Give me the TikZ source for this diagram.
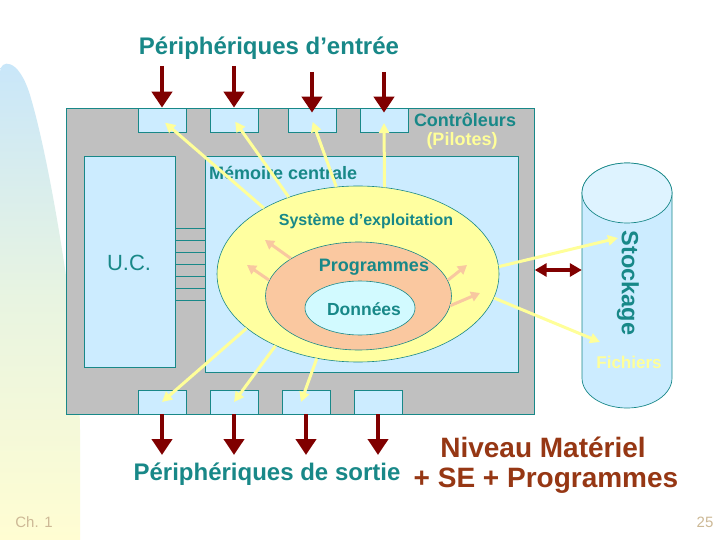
\documentclass[tikz,border=0pt]{standalone}
\usepackage{fontspec}
\setmainfont{Liberation Sans}
\usetikzlibrary{arrows.meta,shapes.geometric}
\definecolor{teal1}{RGB}{24,136,136}
\definecolor{dred}{RGB}{128,0,0}
\definecolor{lblue}{RGB}{204,236,255}
\definecolor{lblue2}{RGB}{222,243,255}
\definecolor{greyb}{RGB}{192,192,192}
\definecolor{yel}{RGB}{255,255,153}
\definecolor{yelfill}{RGB}{255,255,160}
\definecolor{orng}{RGB}{248,200,160}
\definecolor{orfill}{RGB}{250,200,160}
\definecolor{cyanfill}{RGB}{210,250,255}
\definecolor{brown1}{RGB}{150,55,20}
\definecolor{footc}{RGB}{205,185,150}
\tikzset{
  box/.style={draw=teal1,line width=0.7pt,fill=lblue,inner sep=0pt,anchor=north west},
  slot/.style={draw=teal1,line width=0.7pt,fill=lblue,minimum width=48pt,minimum height=24pt,inner sep=0pt},
  bigarrow/.style={draw=dred,line width=4.5pt,-{Triangle[width=20pt,length=16pt]}},
  dblarrow/.style={draw=dred,line width=4pt,{Triangle[width=13pt,length=12pt]}-{Triangle[width=13pt,length=12pt]}},
  yarrow/.style={draw=yel,line width=3pt,-{Triangle[width=10pt,length=10pt]}},
  oarrow/.style={draw=orng,line width=3pt,-{Triangle[width=10pt,length=9pt]}},
  ttl/.style={text=teal1,font=\bfseries\fontsize{24}{28}\selectfont,inner sep=0pt},
  lbl/.style={text=teal1,font=\bfseries\fontsize{18}{21}\selectfont,inner sep=0pt},
  ell/.style={ellipse,draw=teal1,line width=0.6pt,inner sep=0pt},
}
\begin{document}
\begin{tikzpicture}[x=1pt,y=-1pt]
\useasboundingbox (0,0) rectangle (720,540);
\fill[white] (0,0) rectangle (720,540);
% left gradient band
\shade[top color={rgb,255:red,200;green,230;blue,250},bottom color={rgb,255:red,255;green,253;blue,210},middle color={rgb,255:red,232;green,244;blue,225}]
  (0,540) -- (0,72) .. controls (0,60) and (18,56) .. (30,95) .. controls (45,145) and (62,240) .. (72,320) .. controls (77,370) and (80,410) .. (80,430) -- (80,540) -- cycle;
% grey frame
\node[draw=teal1,line width=0.7pt,fill=greyb,anchor=north west,minimum width=468pt,minimum height=306pt,inner sep=0pt] (grey) at (66,108) {};
% slots
\node[slot] (s1) at (162,120) {};
\node[slot] (s2) at (234,120) {};
\node[slot] (s3) at (312,120) {};
\node[slot] (s4) at (384,120) {};
\node[slot] (b1) at (162,402) {};
\node[slot] (b2) at (234,402) {};
\node[slot] (b3) at (306,402) {};
\node[slot] (b4) at (378,402) {};
% UC and memory
\node[box,minimum width=91pt,minimum height=211pt] (uc) at (84,156) {};
\node[box,minimum width=313pt,minimum height=216pt] (mem) at (205,156) {};
\foreach \yy in {228,240,...,300} \draw[teal1,line width=0.6pt] (175,\yy) -- (205,\yy);
\node[text=teal1,font=\fontsize{22}{26}\selectfont,inner sep=0pt] (uct) at (129,263) {U.C.};
\node[lbl,anchor=west] (memt) at (209,173) {Mémoire centrale};
% ellipses
\node[ell,fill=yelfill,minimum width=282pt,minimum height=176pt] (os) at (358,274) {};
\node[ell,fill=orfill,minimum width=186pt,minimum height=108pt] (pg) at (358.5,296) {};
\node[ell,fill=cyanfill,minimum width=110pt,minimum height=54pt] (dn) at (360,308) {};
\node[lbl,font=\bfseries\fontsize{16}{19}\selectfont] (ost) at (366,221) {Système d’exploitation};
\node[lbl] (pgt) at (374,267) {Programmes};
\node[lbl,font=\bfseries\fontsize{17.5}{20}\selectfont] (dnt) at (364,309) {Données};
% cylinder
\node[minimum width=90pt,minimum height=185pt,inner sep=0pt] (cyl) at (627,285.5) {};
\fill[lblue,draw=teal1,line width=0.7pt] (582,193) -- (582,378) arc[start angle=180,end angle=360,x radius=45,y radius=-30] -- (672,193) arc[start angle=0,end angle=180,x radius=45,y radius=-30] -- cycle;
\draw[teal1,line width=0.7pt,fill=lblue2] (627,193) ellipse[x radius=45,y radius=30];
\node[text=teal1,font=\bfseries\fontsize{23.5}{27}\selectfont,rotate=-90,inner sep=0pt] (stk) at (628,283) {Stockage};
\node[text=yel,font=\bfseries\fontsize{17}{20}\selectfont,inner sep=0pt] (fic) at (629,362) {Fichiers};
\coordinate (c1) at (618,238);
\coordinate (c2) at (600,342);
% controllers label
\node[text=teal1,font=\bfseries\fontsize{18}{21}\selectfont,inner sep=0pt] (ctl) at (465,120) {Contrôleurs};
\node[text=yel,font=\bfseries\fontsize{18}{21}\selectfont,inner sep=0pt] (pil) at (462,141) {(Pilotes)};
% orange arrows
\coordinate (o1) at (265,240);
\coordinate (o2) at (247,265);
\coordinate (o3) at (467,265);
\coordinate (o4) at (480,293);
\draw[oarrow] (pg.151) -- (o1);
\draw[oarrow] (pg.170) -- (o2);
\draw[oarrow] (pg.10) -- (o3);
\draw[oarrow] (pg.-6) -- (o4);
% yellow arrows
\draw[yarrow,shorten >=4pt] (os.145) -- (s1.center);
\draw[yarrow,shorten >=2pt] (os.132) -- (s2.center);
\draw[yarrow,shorten >=2pt] (os.104) -- (s3.center);
\draw[yarrow,shorten >=3pt] (os.73) -- (s4.center);
\draw[yarrow] (os.-154) -- (b1.center);
\draw[yarrow] (os.-139) -- (b2.center);
\draw[yarrow] (os.-116) -- ([xshift=-5pt]b3.center);
\draw[yarrow] (os.3) -- (c1);
\draw[yarrow] (os.-10) -- (c2);
% dark red arrows
\draw[bigarrow] (s1.north |- 0,66) -- (s1.north);
\draw[bigarrow] (s2.north |- 0,66) -- (s2.north);
\draw[bigarrow] (s3.north |- 0,72) -- ([yshift=-5pt]s3.north);
\draw[bigarrow] (s4.north |- 0,72) -- ([yshift=-5pt]s4.north);
\draw[bigarrow] (b1.south) -- (b1.south |- 0,455);
\draw[bigarrow] (b2.south) -- (b2.south |- 0,455);
\draw[bigarrow] (b3.south) -- (b3.south |- 0,455);
\draw[bigarrow] (b4.south) -- (b4.south |- 0,455);
\draw[dblarrow] (grey.east |- 0,270) -- (cyl.west |- 0,270);
% titles
\node[ttl] (tin) at (269,48) {Périphériques d’entrée};
\node[ttl] (tout) at (267,474) {Périphériques de sortie};
\node[text=brown1,font=\bfseries\fontsize{28}{32}\selectfont,inner sep=0pt] (niv1) at (543,447) {Niveau Matériel};
\node[text=brown1,font=\bfseries\fontsize{28}{32}\selectfont,inner sep=0pt] (niv2) at (546,481) {+ SE + Programmes};
\node[text=footc,font=\fontsize{15}{18}\selectfont,inner sep=0pt] (ch) at (34,522) {Ch. 1};
\node[text=footc,font=\fontsize{15}{18}\selectfont,inner sep=0pt] (pg25) at (705,522) {25};
\end{tikzpicture}
\end{document}
